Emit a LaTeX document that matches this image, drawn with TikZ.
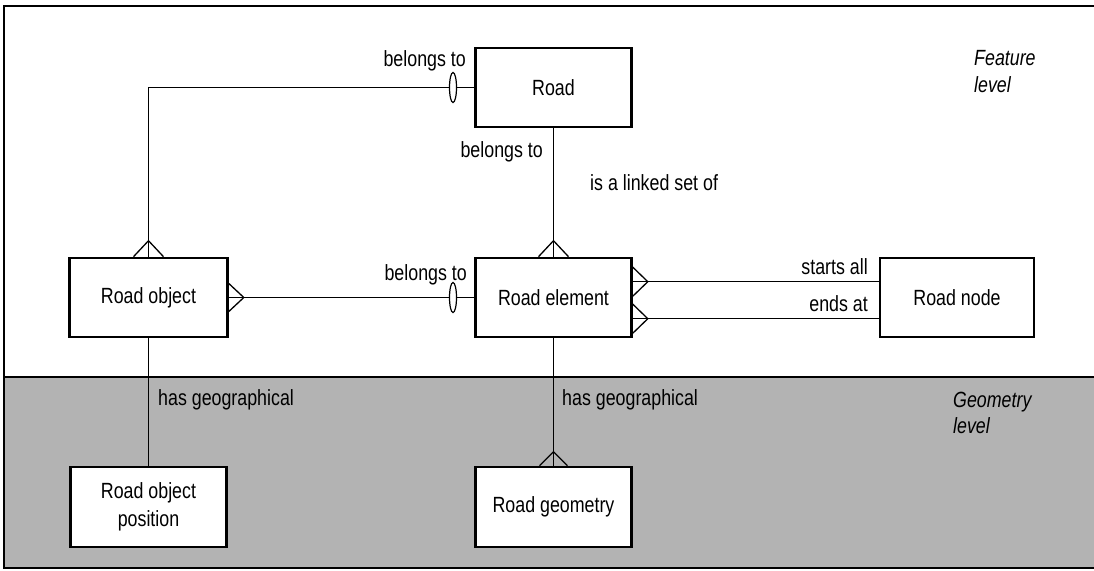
\documentclass[tikz,border=0pt]{standalone}
\usepackage{fontspec}
\setmainfont{Liberation Sans}[FakeStretch=0.81]
\usetikzlibrary{calc,shapes.geometric}
\definecolor{levelgray}{HTML}{B3B3B3}
\tikzset{
  entity/.style={draw, line width=2.6pt, fill=white, minimum width=156pt, minimum height=79pt, inner sep=0pt, align=center, font=\fontsize{22}{28}\selectfont},
  conn/.style={line width=1.3pt},
  lbl/.style={inner sep=0pt, font=\fontsize{22}{27}\selectfont},
  lvl/.style={inner sep=0pt, font=\fontsize{22}{27}\selectfont\itshape},
  optmark/.style={ellipse, draw, line width=1.2pt, fill=white, minimum width=7pt, minimum height=30pt, inner sep=0pt},
  frame/.style={line width=2pt}
}
\begin{document}
\begin{tikzpicture}[x=1pt, y=-1pt]
\useasboundingbox (0,0) rectangle (1094,570);
% level backgrounds
\fill[levelgray] (4,377) rectangle (1094,568);
\draw[frame] (1094,6) -- (4,6) -- (4,568) -- (1094,568);
\draw[frame] (4,377) -- (1094,377);

% entities
\node[entity] (road) at (553.5,87.5) {Road};
\node[entity, minimum width=158pt] (robj) at (148.5,297.5) {Road object};
\node[entity] (rel) at (553.5,297.5) {Road element};
\node[entity, minimum width=154pt] (rnode) at (957,297.5) {Road node};
\node[entity, minimum height=80pt] (rpos) at (148.5,507) {Road object\\position};
\node[entity, minimum height=80pt] (rgeo) at (553.5,507) {Road geometry};

% Road object -> Road
\draw[conn] (robj.north) |- (road.west);
\node[optmark] (o1) at (453,87.5) {};
\draw[conn] ($(robj.north)+(-15,0)$) -- ($(robj.north)+(0,-16)$) -- ($(robj.north)+(15,0)$);

% Road object -> Road element
\draw[conn] (robj.east) -- (rel.west);
\node[optmark] (o2) at (453,297.5) {};
\draw[conn] ($(robj.east)+(0,-14)$) -- ($(robj.east)+(15,0)$) -- ($(robj.east)+(0,14)$);

% Road -> Road element
\draw[conn] (road.south) -- (rel.north);
\draw[conn] ($(rel.north)+(-15,0)$) -- ($(rel.north)+(0,-16)$) -- ($(rel.north)+(15,0)$);

% Road element -> Road node
\coordinate (s1) at ($(rel.north east)+(0,25)$);
\coordinate (s2) at ($(rel.north east)+(0,62)$);
\draw[conn] (s1) -- (s1 -| rnode.west);
\draw[conn] (s2) -- (s2 -| rnode.west);
\draw[conn] ($(s1)+(0,-14.5)$) -- ($(s1)+(15,0)$) -- ($(s1)+(0,14.5)$);
\draw[conn] ($(s2)+(0,-14.5)$) -- ($(s2)+(15,0)$) -- ($(s2)+(0,14.5)$);

% geometry links
\draw[conn] (robj.south) -- (rpos.north);
\draw[conn] (rel.south) -- (rgeo.north);
\draw[conn] ($(rgeo.north)+(-14,0)$) -- ($(rgeo.north)+(0,-14)$) -- ($(rgeo.north)+(14,0)$);

% labels
\node[lbl, anchor=base east] (l1) at (466,66) {belongs to};
\node[lbl, anchor=base east] (l2) at (543,157) {belongs to};
\node[lbl, anchor=base west] (l3) at (590,190) {is a linked set of};
\node[lbl, anchor=base east] (l4) at (467,280) {belongs to};
\node[lbl, anchor=base east] (l5) at (868,274) {starts all};
\node[lbl, anchor=base east] (l6) at (868,311) {ends at};
\node[lbl, anchor=base west] (l7) at (158,405) {has geographical};
\node[lbl, anchor=base west] (l8) at (562,405) {has geographical};

% level names
\node[lvl, anchor=base west] (f1) at (974,65) {Feature};
\node[lvl, anchor=base west] (f2) at (974,92) {level};
\node[lvl, anchor=base west] (g1) at (953,407) {Geometry};
\node[lvl, anchor=base west] (g2) at (953,433) {level};
\end{tikzpicture}
\end{document}
